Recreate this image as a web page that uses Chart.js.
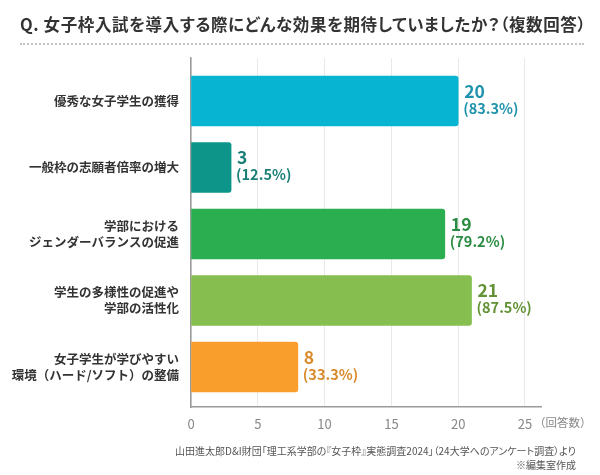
<!DOCTYPE html>
<html lang="ja">
<head>
<meta charset="utf-8">
<script src="https://cdn.jsdelivr.net/npm/chart.js@4/dist/chart.umd.min.js"></script>
<style>
  body { margin: 0; background: #fff; }
  #wrap { position: relative; width: 600px; height: 475px; font-family: "Noto Sans CJK JP", "Noto Sans", sans-serif; }
  #title { position: absolute; left: 20px; top: 12px; width: 564px; font-size: 16.5px; font-weight: bold; color: #333;
           padding-bottom: 7px; border-bottom: 2px dotted #c4c4c4; white-space: nowrap;
           font-feature-settings: "palt"; letter-spacing: 0.6px; }
  #source { position: absolute; right: 24px; top: 444px; font-size: 10px; color: #555; text-align: right; line-height: 14px;
            font-feature-settings: "palt"; white-space: nowrap; }
  canvas { position: absolute; left: 0; top: 0; }
</style>
</head>
<body>
<div id="wrap">
  <canvas id="chart" width="600" height="475"></canvas>
  <div id="title">Q. 女子枠入試を導入する際にどんな効果を期待していましたか？（複数回答）</div>
  <div id="source">山田進太郎D&amp;I財団「理工系学部の『女子枠』実態調査2024」（24大学へのアンケート調査）より<br>※編集室作成</div>
</div>
<script>
/* DATA */
const categories = [
    "優秀な女子学生の獲得",
    "一般枠の志願者倍率の増大",
    ["学部における", "ジェンダーバランスの促進"],
    ["学生の多様性の促進や", "学部の活性化"],
    ["女子学生が学びやすい", "環境（ハード/ソフト）の整備"]
];
const counts = [20, 3, 19, 21, 8];
const percents = [83.3, 12.5, 79.2, 87.5, 33.3];
const xTicks = [0, 5, 10, 15, 20, 25];

const barColors = ["#07b4d1", "#0e958a", "#2bae50", "#86bf50", "#f99d2c"];
const labelColors = ["#1f93ab", "#1a7f76", "#2a8c42", "#629234", "#d98a2b"];
const FONT = '"Noto Sans CJK JP", "Noto Sans", sans-serif';
const Y_MIN = -0.647, Y_MAX = 4.601;

/* value labels next to each bar + unit label on x axis */
const extras = {
    id: "extras",
    afterDatasetsDraw(chart) {
        const ctx = chart.ctx;
        const meta = chart.getDatasetMeta(0);
        ctx.save();
        ctx.textAlign = "left";
        ctx.textBaseline = "middle";
        meta.data.forEach((bar, i) => {
            ctx.fillStyle = labelColors[i];
            ctx.font = "bold 17.5px " + FONT;
            ctx.fillText(counts[i], bar.x + 6, bar.y - 10);
            ctx.font = "bold 14.5px " + FONT;
            ctx.fillText("(" + percents[i].toFixed(1) + "%)", bar.x + 5, bar.y + 7);
        });
        const x = chart.scales.x;
        ctx.fillStyle = "#888";
        ctx.font = "11.5px " + FONT;
        ctx.fillText("（回答数）", x.getPixelForValue(25) + 9, x.top + 16);
        ctx.restore();
    }
};

new Chart(document.getElementById("chart"), {
    type: "bar",
    data: {
        datasets: [{
            data: counts.map((v, i) => ({ x: v, y: i })),
            backgroundColor: barColors,
            borderRadius: 3,
            borderSkipped: "start",
            barThickness: 50
        }]
    },
    options: {
        indexAxis: "y",
        responsive: false,
        animation: false,
        layout: { padding: { top: 58, right: 59, bottom: 0, left: 0 } },
        plugins: { legend: { display: false }, tooltip: { enabled: false } },
        scales: {
            x: {
                type: "linear",
                bounds: "data",
                min: 0,
                max: 26.2,
                afterBuildTicks: s => { s.ticks = xTicks.map(v => ({ value: v })); },
                afterFit: s => { s.height = 68; },
                grid: { color: "#e9e9e9", drawTicks: false },
                border: { color: "#9a9a9a", width: 1.5 },
                ticks: { color: "#888", padding: 9, font: { family: FONT, size: 13 } }
            },
            y: {
                type: "linear",
                bounds: "data",
                offset: false,
                reverse: true,
                min: Y_MIN,
                max: Y_MAX,
                afterBuildTicks: s => { s.ticks = categories.map((c, i) => ({ value: i })); },
                afterFit: s => { s.width = 191; },
                grid: { display: false },
                border: { color: "#9a9a9a", width: 1.5 },
                ticks: {
                    color: "#333",
                    padding: 4,
                    autoSkip: false,
                    font: { family: FONT, size: 12.5, weight: "bold", lineHeight: 1.3 },
                    callback: v => categories[v]
                }
            }
        }
    },
    plugins: [extras]
});
</script>
</body>
</html>
